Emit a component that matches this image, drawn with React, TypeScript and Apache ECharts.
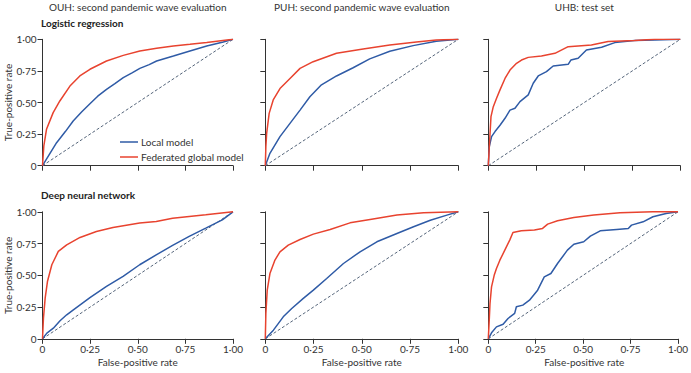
import React, { useEffect, useRef } from "react";
import * as echarts from "echarts";

const columnTitles = [
  "OUH: second pandemic wave evaluation",
  "PUH: second pandemic wave evaluation",
  "UHB: test set",
];
const rowTitles = ["Logistic regression", "Deep neural network"];
const localName = "Local model";
const fedName = "Federated global model";

// [false-positive rate, true-positive rate]
const ouhLrLocal = [[0,0],[0.02,0.05],[0.074,0.182],[0.12,0.27],[0.161,0.354],[0.205,0.425],[0.249,0.49],[0.29,0.55],[0.336,0.604],[0.38,0.65],[0.424,0.697],[0.47,0.735],[0.511,0.77],[0.56,0.8],[0.599,0.828],[0.687,0.868],[0.774,0.908],[0.862,0.947],[0.949,0.979],[1,1]];
const ouhLrFed = [[0,0],[0.007,0.156],[0.021,0.288],[0.056,0.42],[0.091,0.512],[0.144,0.63],[0.196,0.71],[0.249,0.763],[0.336,0.828],[0.424,0.873],[0.511,0.908],[0.599,0.929],[0.687,0.947],[0.774,0.96],[0.862,0.974],[1,1]];
const puhLrLocal = [[0,0],[0.024,0.098],[0.076,0.23],[0.128,0.335],[0.18,0.44],[0.231,0.546],[0.291,0.64],[0.369,0.71],[0.455,0.775],[0.541,0.845],[0.645,0.905],[0.766,0.95],[0.886,0.985],[1,1]];
const puhLrFed = [[0,0],[0.003,0.15],[0.007,0.256],[0.02,0.414],[0.041,0.52],[0.076,0.61],[0.128,0.69],[0.18,0.77],[0.248,0.823],[0.369,0.89],[0.507,0.923],[0.645,0.955],[0.783,0.979],[0.886,0.995],[1,1]];
const uhbLrLocal = [[0,0],[0.005,0.15],[0.017,0.23],[0.035,0.27],[0.061,0.32],[0.087,0.375],[0.113,0.44],[0.139,0.454],[0.165,0.507],[0.208,0.56],[0.234,0.652],[0.26,0.71],[0.303,0.744],[0.338,0.789],[0.416,0.802],[0.43,0.836],[0.468,0.85],[0.511,0.916],[0.59,0.937],[0.659,0.974],[0.762,0.99],[0.867,0.995],[1,1]];
const uhbLrFed = [[0,0],[0.007,0.2],[0.014,0.388],[0.026,0.467],[0.043,0.533],[0.061,0.6],[0.087,0.69],[0.113,0.757],[0.147,0.81],[0.173,0.836],[0.208,0.857],[0.277,0.868],[0.347,0.889],[0.416,0.942],[0.537,0.955],[0.624,0.982],[0.762,0.99],[0.867,1],[1,1]];
const ouhDnnLocal = [[0,0],[0.023,0.045],[0.057,0.084],[0.092,0.142],[0.127,0.189],[0.162,0.228],[0.249,0.325],[0.336,0.412],[0.423,0.491],[0.51,0.583],[0.597,0.661],[0.683,0.735],[0.77,0.806],[0.857,0.871],[0.944,0.937],[1,1]];
const ouhDnnFed = [[0,0],[0.005,0.163],[0.014,0.32],[0.026,0.451],[0.049,0.583],[0.083,0.688],[0.127,0.74],[0.197,0.798],[0.283,0.845],[0.37,0.877],[0.51,0.911],[0.597,0.924],[0.683,0.95],[0.77,0.963],[0.857,0.976],[1,1]];
const puhDnnLocal = [[0,0],[0.042,0.068],[0.093,0.173],[0.137,0.239],[0.197,0.318],[0.249,0.383],[0.318,0.475],[0.405,0.593],[0.491,0.685],[0.578,0.764],[0.682,0.829],[0.768,0.882],[0.855,0.934],[0.941,0.974],[1,1]];
const puhDnnFed = [[0,0],[0.003,0.2],[0.01,0.383],[0.024,0.514],[0.05,0.62],[0.076,0.685],[0.119,0.738],[0.18,0.782],[0.249,0.824],[0.336,0.861],[0.439,0.913],[0.543,0.94],[0.682,0.974],[0.82,0.992],[1,1]];
const uhbDnnLocal = [[0,0],[0.017,0.047],[0.043,0.094],[0.078,0.115],[0.104,0.16],[0.139,0.2],[0.148,0.252],[0.182,0.265],[0.217,0.304],[0.26,0.383],[0.295,0.488],[0.33,0.514],[0.365,0.593],[0.417,0.698],[0.451,0.745],[0.503,0.764],[0.538,0.808],[0.59,0.85],[0.677,0.861],[0.738,0.869],[0.755,0.895],[0.816,0.921],[0.868,0.961],[0.937,0.987],[1,1]];
const uhbDnnFed = [[0,0],[0.005,0.147],[0.009,0.278],[0.017,0.409],[0.031,0.5],[0.043,0.554],[0.061,0.619],[0.087,0.698],[0.113,0.777],[0.13,0.837],[0.174,0.85],[0.243,0.856],[0.286,0.869],[0.313,0.903],[0.365,0.929],[0.451,0.955],[0.556,0.974],[0.694,0.992],[0.868,1],[1,1]];
const chance = [[0,0],[1,1]];

const panels = [
  [ouhLrLocal, ouhLrFed],
  [puhLrLocal, puhLrFed],
  [uhbLrLocal, uhbLrFed],
  [ouhDnnLocal, ouhDnnFed],
  [puhDnnLocal, puhDnnFed],
  [uhbDnnLocal, uhbDnnFed],
];

const BLUE = "#2f5ba6";
const RED = "#e8432f";
const AXIS = "#333";
const FONT = "Lato";

const colLeft = [42.5, 265.3, 488.3];
const colWidth = [190.5, 193, 192];
const rowTop = [39.3, 211.8];
const rowHeight = [126.4, 127];

const fmt = (v: number) => (v === 0 ? "0" : v.toFixed(2).replace(".", "·"));

export default function App() {
  const ref = useRef<HTMLDivElement>(null);
  useEffect(() => {
    if (!ref.current) return;
    const chart = echarts.init(ref.current, null, { renderer: "svg" });
    const grids: any[] = [];
    const xAxes: any[] = [];
    const yAxes: any[] = [];
    const series: any[] = [];
    panels.forEach((p, i) => {
      const r = Math.floor(i / 3);
      const c = i % 3;
      grids.push({ left: colLeft[c], top: rowTop[r], width: colWidth[c], height: rowHeight[r], containLabel: false });
      const common = {
        gridIndex: i,
        type: "value",
        min: 0,
        max: 1,
        interval: 0.25,
        splitLine: { show: false },
        axisLine: { show: true, lineStyle: { color: AXIS, width: 1 } },
        axisTick: { show: true, length: 5, lineStyle: { color: AXIS, width: 1 } },
      };
      xAxes.push({
        ...common,
        axisLabel: { show: r === 1, formatter: fmt, color: "#333", fontSize: 10, fontFamily: FONT, margin: 5 },
      });
      yAxes.push({
        ...common,
        axisLabel: { show: c === 0, formatter: fmt, color: "#333", fontSize: 10, fontFamily: FONT, margin: 6 },
      });
      series.push({
        type: "line",
        name: "chance",
        xAxisIndex: i,
        yAxisIndex: i,
        data: chance,
        symbol: "none",
        lineStyle: { color: "#55657a", width: 1, type: [3, 2] },
        silent: true,
      });
      series.push({
        type: "line",
        name: localName,
        xAxisIndex: i,
        yAxisIndex: i,
        data: p[0],
        symbol: "none",
        lineStyle: { color: BLUE, width: 1.5 },
        itemStyle: { color: BLUE },
      });
      series.push({
        type: "line",
        name: fedName,
        xAxisIndex: i,
        yAxisIndex: i,
        data: p[1],
        symbol: "none",
        lineStyle: { color: RED, width: 1.5 },
        itemStyle: { color: RED },
      });
    });

    const graphics: any[] = [];
    columnTitles.forEach((t, c) => {
      graphics.push({
        type: "text",
        x: colLeft[c] + colWidth[c] / 2,
        y: 7,
        style: { text: t, fontSize: 10, fontFamily: FONT, fill: "#333", textAlign: "center", textVerticalAlign: "middle" },
      });
      graphics.push({
        type: "text",
        x: colLeft[c] + colWidth[c] / 2,
        y: 362,
        style: { text: "False-positive rate", fontSize: 10, fontFamily: FONT, fill: "#333", textAlign: "center", textVerticalAlign: "middle" },
      });
    });
    rowTitles.forEach((t, r) => {
      graphics.push({
        type: "text",
        x: 41,
        y: r === 0 ? 23 : 194.5,
        style: { text: t, fontSize: 10, fontWeight: "bold", fontFamily: FONT, fill: "#222", textAlign: "left", textVerticalAlign: "middle" },
      });
      graphics.push({
        type: "text",
        x: 8,
        y: rowTop[r] + rowHeight[r] / 2,
        rotation: Math.PI / 2,
        style: { text: "True-positive rate", fontSize: 10, fontFamily: FONT, fill: "#333", textAlign: "center", textVerticalAlign: "middle" },
      });
    });

    chart.setOption({
      animation: false,
      backgroundColor: "#fff",
      grid: grids,
      xAxis: xAxes,
      yAxis: yAxes,
      series,
      legend: {
        data: [localName, fedName],
        orient: "vertical",
        left: 120,
        top: 137,
        icon: "rect",
        itemWidth: 18,
        itemHeight: 1.5,
        itemGap: 5,
        padding: 0,
        textStyle: { fontSize: 10, fontFamily: FONT, color: "#333", padding: [0, 0, 0, -2] },
        selectedMode: false,
      },
      graphic: graphics,
    });
    return () => chart.dispose();
  }, []);
  return <div ref={ref} style={{ width: 691, height: 373, position: "absolute", left: 0, top: 0 }} />;
}
